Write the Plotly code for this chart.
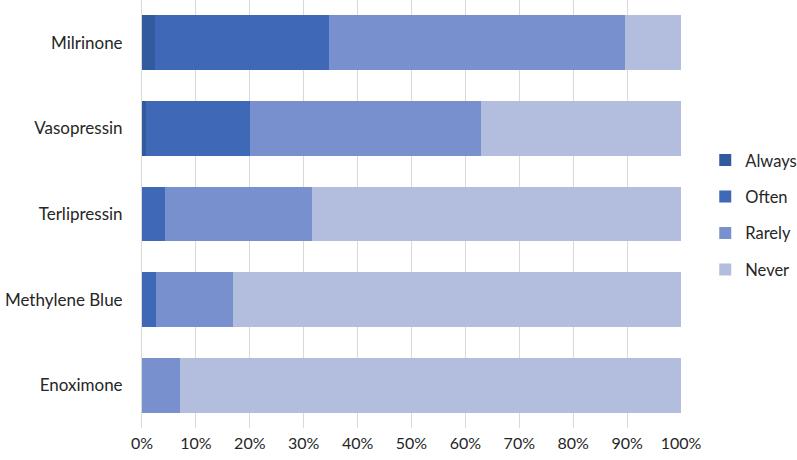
import plotly.graph_objects as go

categories = ["Milrinone", "Vasopressin", "Terlipressin", "Methylene Blue", "Enoximone"]
always = [2.5, 0.8, 0.0, 0.0, 0.0]
often = [32.2, 19.2, 4.3, 2.65, 0.0]
rarely = [55.0, 42.9, 27.3, 14.15, 7.0]
never = [10.3, 37.1, 68.4, 83.2, 93.0]
series_names = ["Always", "Often", "Rarely", "Never"]
colors = ["#325A9E", "#3F69B7", "#7990CE", "#B3BEDF"]
tick_vals = [0, 10, 20, 30, 40, 50, 60, 70, 80, 90, 100]
tick_text = [f"{v}%" for v in tick_vals]

fig = go.Figure()
for name, vals, col in zip(series_names, [always, often, rarely, never], colors):
    fig.add_trace(go.Bar(
        y=categories, x=vals, name=name, orientation="h",
        marker=dict(color=col, line=dict(width=0)),
        legendgroup=name,
    ))

fig.update_layout(
    barmode="stack",
    bargap=0.36,
    width=797, height=460,
    margin=dict(l=142, r=116, t=0, b=32, autoexpand=False),
    plot_bgcolor="white", paper_bgcolor="white",
    font=dict(family="Lato, Open Sans, sans-serif", size=16, color="#262626"),
    legend=dict(
        x=1.045, xanchor="left", y=0.498, yanchor="middle",
        traceorder="grouped", tracegroupgap=12,
        font=dict(size=16.5),
        itemwidth=30,
    ),
    xaxis=dict(
        range=[0, 100], tickvals=tick_vals, ticktext=tick_text,
        showgrid=True, gridcolor="#D9D9D9", gridwidth=1,
        zeroline=False, showline=False, ticks="", fixedrange=True,
        ticklabelstandoff=4, tickfont=dict(size=16),
    ),
    yaxis=dict(
        categoryorder="array", categoryarray=categories[::-1],
        showline=True, linecolor="#D9D9D9", linewidth=1,
        ticks="", ticklabelstandoff=15,
        tickfont=dict(size=17),
    ),
)

fig.write_html(
    "out.html",
    config={"displayModeBar": False},
    post_script="document.body.style.margin='0';document.body.style.padding='0';",
)
